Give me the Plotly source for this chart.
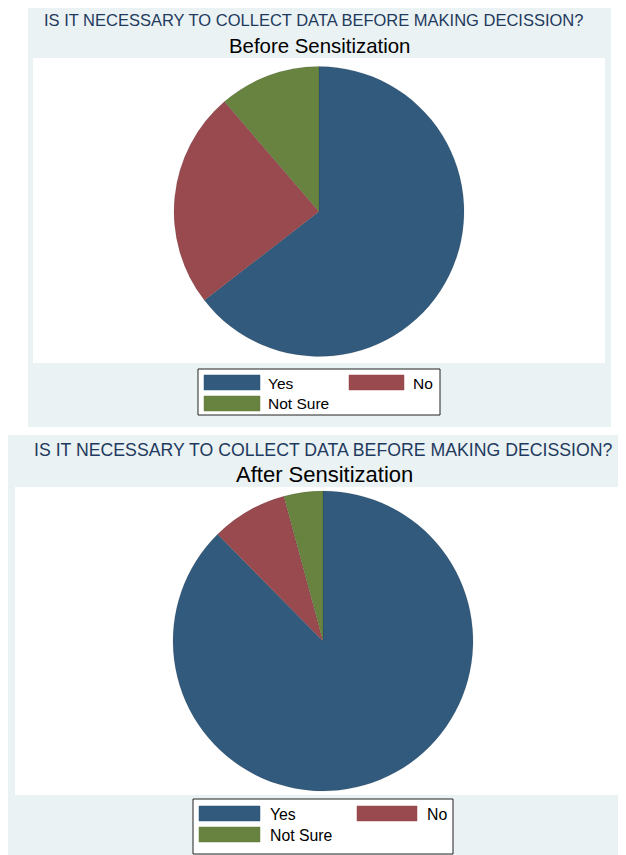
import plotly.graph_objects as go

# ---- data ----
categories = ["Yes", "No", "Not Sure"]
before_values = [64.5, 24.2, 11.3]
after_values = [87.6, 8.2, 4.2]
colors = ["#325A7C", "#984A4F", "#67833F"]

main_title = "IS IT NECESSARY TO COLLECT DATA BEFORE MAKING DECISSION?"
sub_before = "Before Sensitization"
sub_after = "After Sensitization"

# page body has an 8px margin; compensate so the picture lines up with the window
OFF = 8
W, H = 626 - OFF, 855 - OFF
FONT = "Liberation Sans, Arial, sans-serif"
PANEL_BG = "#EAF2F3"
TITLE_COLOR = "#1E3A5E"


def px(x):
    return (x - OFF) / W


def py(y):
    return 1 - (y - OFF) / H


def pie_domain(cx, cy, r):
    return dict(x=[px(cx - r), px(cx + r)], y=[py(cy + r), py(cy - r)])


fig = go.Figure()

fig.add_trace(go.Pie(
    labels=categories, values=before_values, sort=False, direction="clockwise",
    rotation=0, marker=dict(colors=colors, line=dict(width=0.6, color="rgba(0,0,0,0.15)")),
    textinfo="none", hoverinfo="label+value", showlegend=False,
    domain=pie_domain(319, 211.5, 145),
))
fig.add_trace(go.Pie(
    labels=categories, values=after_values, sort=False, direction="clockwise",
    rotation=0, marker=dict(colors=colors, line=dict(width=0.6, color="rgba(0,0,0,0.15)")),
    textinfo="none", hoverinfo="label+value", showlegend=False,
    domain=pie_domain(323, 641, 150),
))

shapes = []
annotations = []


def rect(x0, y0, x1, y1, fill):
    shapes.append(dict(
        type="rect", xref="paper", yref="paper", layer="below",
        x0=px(x0), x1=px(x1), y0=py(y1), y1=py(y0),
        fillcolor=fill, line=dict(width=0, color=fill),
    ))


def text(x, y, s, size, color="black", anchor="center"):
    annotations.append(dict(
        x=px(x), y=py(y), xref="paper", yref="paper", text=s, showarrow=False,
        xanchor=anchor, yanchor="middle", font=dict(family=FONT, size=size, color=color),
    ))


def legend(box, sw_pos, txt_pos, size):
    x0, y0, x1, y1 = box
    shapes.append(dict(
        type="rect", xref="paper", yref="paper", layer="above",
        x0=px(x0), x1=px(x1), y0=py(y1), y1=py(y0),
        fillcolor="white", line=dict(width=1, color="#222222"),
    ))
    for cat, col, (sx0, sy0, sx1, sy1), (tx, ty) in zip(categories, colors, sw_pos, txt_pos):
        shapes.append(dict(
            type="rect", xref="paper", yref="paper", layer="above",
            x0=px(sx0), x1=px(sx1), y0=py(sy1), y1=py(sy0),
            fillcolor=col, line=dict(width=0.5, color=col),
        ))
        text(tx, ty, cat, size, anchor="left")


# ---- top panel ----
rect(28, 5, 611, 427, PANEL_BG)
rect(33, 58, 605, 363, "white")
text(313, 20, main_title, 16.5, TITLE_COLOR)
text(319.5, 46, sub_before, 20.4)
legend((198, 369, 440, 415),
       [(204, 375, 260, 390), (349, 375, 404, 390), (204, 396, 260, 411)],
       [(266, 383), (411, 383), (266, 404)], 15.5)

# ---- bottom panel ----
rect(OFF, 435, 626, 855, PANEL_BG)
rect(15, 487, 626, 795, "white")
text(322.5, 450, main_title, 17.7, TITLE_COLOR)
text(324.5, 474, sub_after, 22)
legend((193, 799, 453, 854),
       [(199, 806, 260, 821), (357, 806, 417, 821), (199, 827, 260, 842)],
       [(268, 814), (425, 814), (268, 835)], 15.8)

fig.update_layout(
    width=W, height=H,
    margin=dict(l=0, r=0, t=0, b=0),
    paper_bgcolor="white", plot_bgcolor="white",
    shapes=shapes, annotations=annotations,
    showlegend=False,
)

fig.write_html("out.html")
